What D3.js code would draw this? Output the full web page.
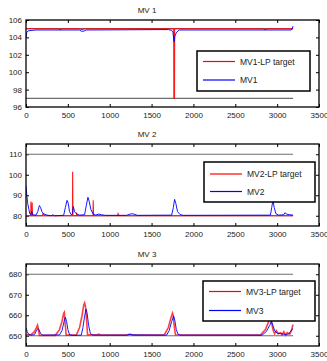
<!DOCTYPE html>
<html>
<head>
<meta charset="utf-8">
<script src="https://cdn.jsdelivr.net/npm/d3@7"></script>
<style>
  body { margin: 0; background: #fff; }
  svg { font-family: "Liberation Sans", Arial, sans-serif; }
  .tick text { font-size: 8px; fill: #222; }
</style>
</head>
<body>
<div id="chart"></div>
<script>
// x axis ticks shared by all three panels
const xTicks = [0, 500, 1000, 1500, 2000, 2500, 3000, 3500];

// MV 1
const mv1Limits = [97, 105];
const mv1Target = [[0,105],[390,105],[410,104.9],[430,105],[640,105],[670,104.9],[700,105],[1764,105],[1766,97],[1774,97],[1776,105],[2840,105],[2860,104.9],[2880,105],[3190,105]];
const mv1 = [[0,104],[10,104.6],[25,104.75],[60,104.8],[120,104.85],[640,104.85],[665,104.7],[690,104.72],[720,104.85],[1700,104.9],[1740,104.8],[1755,104.6],[1768,103.5],[1780,104.2],[1800,104.6],[1830,104.85],[3170,104.85],[3180,105],[3190,105.3]];
const mv1Ticks = [96, 98, 100, 102, 104, 106];

// MV 2
const mv2Limits = [80, 110];
const mv2Target = [[0,80],[57,80],[59,87],[62,80],[72,80],[74,86.5],[77,80],[195,80],[200,81],[210,81],[215,80],[555,80],[557,101.5],[561,80],[600,80],[605,81],[615,80],[800,80],[803,87.5],[807,80],[1095,80],[1100,81],[1110,80],[3190,80]];
const mv2 = [[0,94.5],[10,90],[20,86],[35,83],[45,81],[55,80.5],[70,82],[80,80.5],[120,80.3],[140,82],[160,85],[175,84],[190,82],[210,81],[250,80.3],[300,80],[320,80.5],[340,80],[450,80.2],[470,84],[490,87.5],[505,86],[520,82],[540,80.5],[555,81],[565,84.5],[580,82],[600,81],[640,80.3],[700,80.5],[720,85],[740,89],[755,87],[775,83],[800,81],[830,80.3],[870,80.8],[900,80.5],[950,80.2],[1200,80.2],[1260,81],[1290,80.8],[1330,80.2],[1740,80.3],[1760,84],[1775,88],[1790,86],[1810,82],[1840,80.6],[1880,80.2],[2920,80.3],[2935,84],[2950,87.5],[2965,84],[2985,81],[3020,80.3],[3080,80.5],[3095,81.5],[3110,80.8],[3150,80.5],[3190,80.3]];
const mv2Ticks = [80, 90, 100, 110];

// MV 3
const mv3Limits = [650, 680];
const mv3Target = [[0,650.5],[60,650.5],[100,652],[125,654],[138,655.2],[150,653],[160,650.2],[350,650.2],[400,653],[430,657],[450,661],[458,661.5],[468,656],[480,650.3],[600,650.3],[640,654],[670,660],[690,665],[700,666],[712,664],[725,657],[735,650.5],[850,650.5],[870,650.8],[890,650.4],[1200,650.3],[1240,650.7],[1280,650.3],[1650,650.3],[1700,654],[1730,658.5],[1750,661],[1758,660],[1770,655],[1785,650.5],[2800,650.3],[2860,653],[2895,656.5],[2918,659],[2935,656],[2950,653],[2970,651],[2990,652.5],[3010,651],[3040,651.5],[3060,650.5],[3080,652],[3100,650.3],[3120,651.5],[3150,650.8],[3170,652.5],[3190,655.5]];
const mv3 = [[0,654],[15,652],[30,650.8],[60,650.3],[100,650.5],[120,652],[140,653.5],[155,653],[175,651],[200,650.3],[400,650.4],[430,652.5],[455,657],[470,659],[485,657],[500,653],[520,650.6],[550,650.2],[660,650.3],[680,654],[700,659.5],[717,663],[730,661],[748,655],[770,651],[800,650.3],[1200,650.3],[1240,650.7],[1280,650.4],[1680,650.3],[1710,652.5],[1740,657],[1765,659.5],[1780,657],[1795,653],[1815,650.8],[1840,650.3],[2820,650.3],[2870,652],[2910,655],[2932,657],[2950,655],[2970,652.5],[3000,651.3],[3040,651],[3080,650.8],[3110,650.5],[3140,651],[3160,652],[3175,653],[3190,653.5]];
const mv3Ticks = [650, 660, 670, 680];

const limitEnd = 3190;

const panels = [
  {title: 'MV 1', top: 20, bottom: 107, domain: [96, 106], ticks: mv1Ticks, limits: mv1Limits,
   target: mv1Target, mv: mv1, names: ['MV1-LP target', 'MV1'],
   legend: {x: 197, y: 51, w: 113, h: 40, row1: 10.5, row2: 29}},
  {title: 'MV 2', top: 144, bottom: 226, domain: [75, 115], ticks: mv2Ticks, limits: mv2Limits,
   target: mv2Target, mv: mv2, names: ['MV2-LP target', 'MV2'],
   legend: {x: 204, y: 162, w: 111, h: 40, row1: 12, row2: 29.5}},
  {title: 'MV 3', top: 264, bottom: 346, domain: [645, 685], ticks: mv3Ticks, limits: mv3Limits,
   target: mv3Target, mv: mv3, names: ['MV3-LP target', 'MV3'],
   legend: {x: 203, y: 281, w: 112, h: 40, row1: 10.5, row2: 29.5}}
];

const width = 327, height = 361;
const left = 26, right = 319;

const svg = d3.select('#chart').append('svg')
  .attr('width', width)
  .attr('height', height);

const x = d3.scaleLinear().domain([0, 3500]).range([left, right]);

panels.forEach((p, i) => {
  const y = d3.scaleLinear().domain(p.domain).range([p.bottom, p.top]);
  const g = svg.append('g').attr('class', 'panel-' + i);

  const clipId = 'clip' + i;
  g.append('clipPath').attr('id', clipId)
    .append('rect')
    .attr('x', left).attr('y', p.top)
    .attr('width', right - left).attr('height', p.bottom - p.top);

  // axes: ticks point inward, mirrored on top and right like matlab
  g.append('g')
    .attr('transform', `translate(0,${p.bottom})`)
    .call(d3.axisBottom(x).tickValues(xTicks).tickSize(-3).tickPadding(5).tickFormat(d3.format('d')))
    .call(a => a.select('.domain').remove());
  g.append('g')
    .attr('transform', `translate(0,${p.top})`)
    .call(d3.axisTop(x).tickValues(xTicks).tickSize(-3).tickFormat(''))
    .call(a => a.select('.domain').remove());
  g.append('g')
    .attr('transform', `translate(${left},0)`)
    .call(d3.axisLeft(y).tickValues(p.ticks).tickSize(-3).tickPadding(4).tickFormat(d3.format('d')))
    .call(a => a.select('.domain').remove());
  g.append('g')
    .attr('transform', `translate(${right},0)`)
    .call(d3.axisRight(y).tickValues(p.ticks).tickSize(-3).tickFormat(''))
    .call(a => a.select('.domain').remove());
  g.selectAll('.tick line').attr('stroke', '#000');

  const plot = g.append('g').attr('clip-path', `url(#${clipId})`);

  // limit lines
  plot.selectAll('line.limit')
    .data(p.limits)
    .enter()
    .append('line')
    .attr('class', 'limit')
    .attr('x1', x(0)).attr('x2', x(limitEnd))
    .attr('y1', d => y(d)).attr('y2', d => y(d))
    .attr('stroke', '#6e6e6e')
    .attr('stroke-width', 1.2);

  const line = d3.line().x(d => x(d[0])).y(d => y(d[1]));

  plot.append('path')
    .datum(p.target)
    .attr('d', line)
    .attr('fill', 'none')
    .attr('stroke', '#ff0000')
    .attr('stroke-opacity', i === 2 ? 0.75 : 0.9)
    .attr('stroke-width', i === 2 ? 1.6 : 1.1);

  plot.append('path')
    .datum(p.mv)
    .attr('d', line)
    .attr('fill', 'none')
    .attr('stroke', '#0000ff')
    .attr('stroke-opacity', 0.9)
    .attr('stroke-width', 1);

  // box
  g.append('rect')
    .attr('x', left).attr('y', p.top)
    .attr('width', right - left).attr('height', p.bottom - p.top)
    .attr('fill', 'none')
    .attr('stroke', '#000')
    .attr('stroke-width', 1.3);

  // title
  g.append('text')
    .attr('x', 147).attr('y', p.top - 7)
    .attr('text-anchor', 'middle')
    .attr('font-size', 8)
    .attr('fill', '#222')
    .text(p.title);

  // legend
  const L = p.legend;
  const lg = g.append('g').attr('transform', `translate(${L.x},${L.y})`);
  lg.append('rect')
    .attr('width', L.w).attr('height', L.h)
    .attr('fill', '#fff')
    .attr('stroke', '#000')
    .attr('stroke-width', 1.5);
  const rows = [
    {name: p.names[0], color: '#ff0000', dy: L.row1},
    {name: p.names[1], color: '#0000ff', dy: L.row2}
  ];
  rows.forEach(r => {
    lg.append('line')
      .attr('x1', 6).attr('x2', 38)
      .attr('y1', r.dy).attr('y2', r.dy)
      .attr('stroke', r.color)
      .attr('stroke-width', 1.2);
    lg.append('text')
      .attr('x', 43).attr('y', r.dy + 3)
      .attr('font-size', 8.5)
      .attr('fill', '#222')
      .text(r.name);
  });
});
</script>
</body>
</html>
